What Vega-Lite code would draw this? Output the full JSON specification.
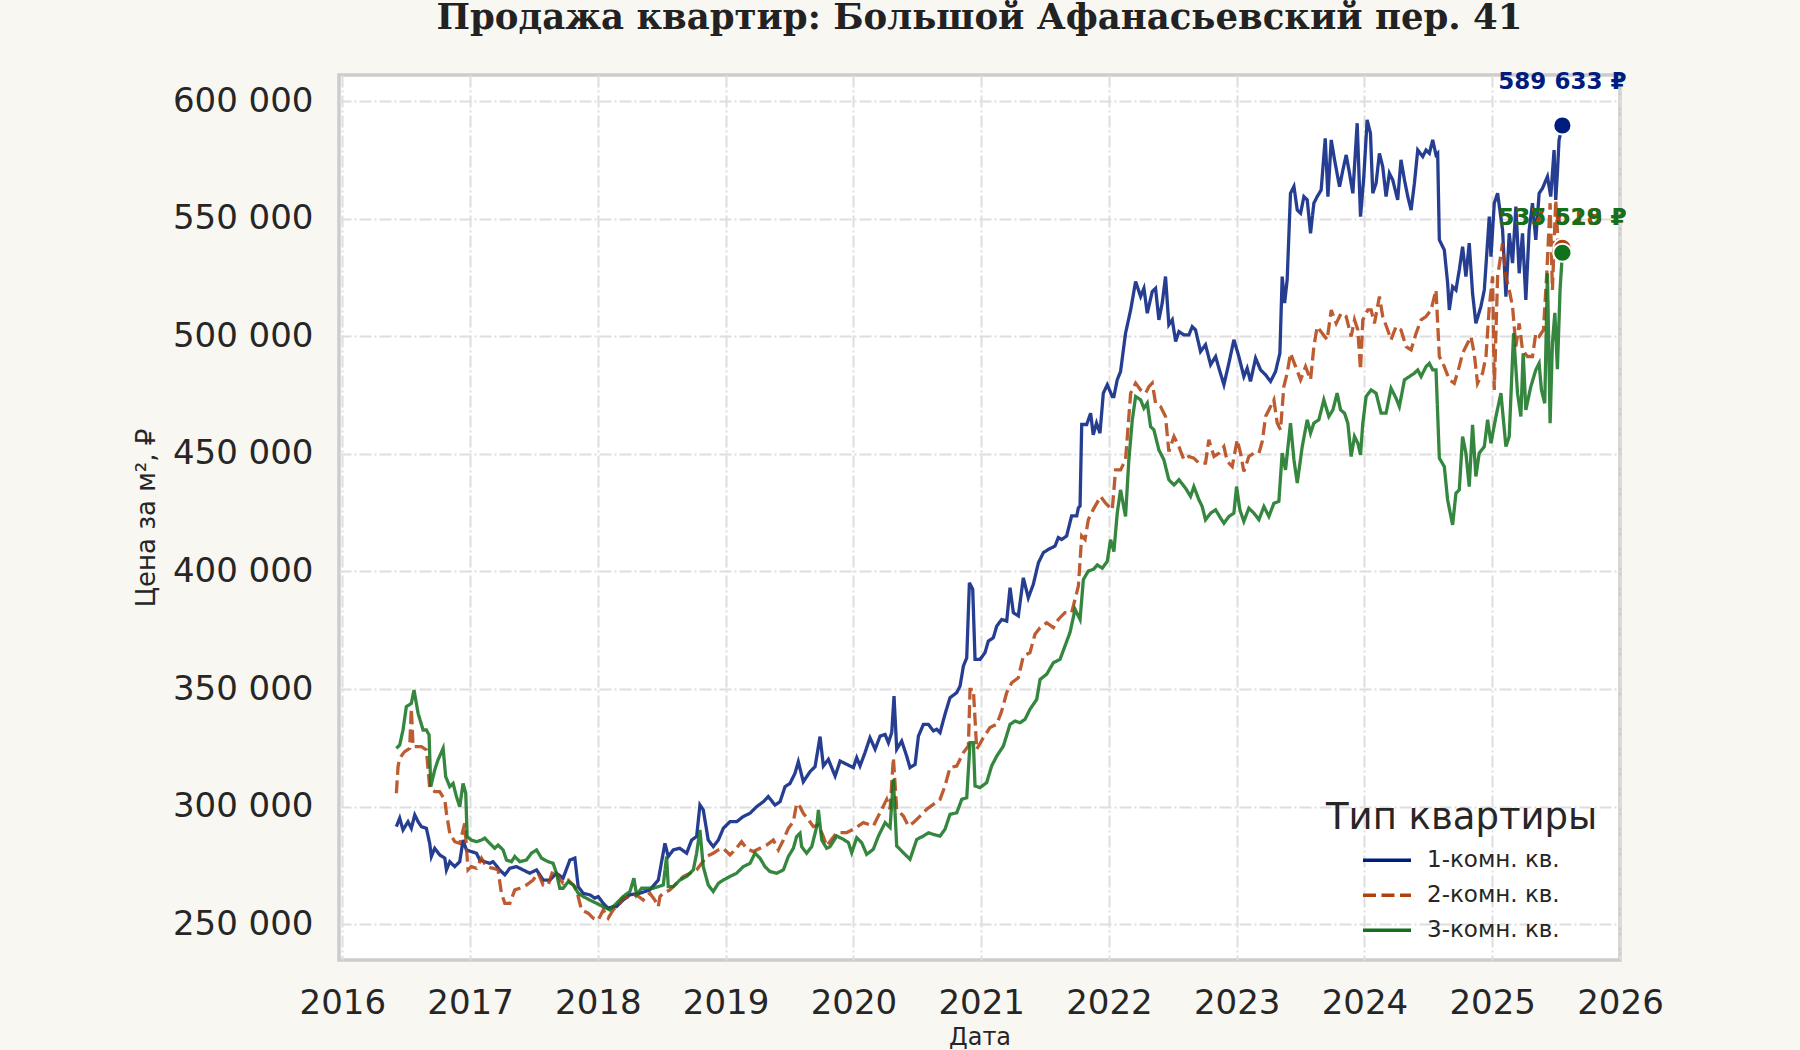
{
  "$schema": "https://vega.github.io/schema/vega-lite/v6.json",
  "width": 1281,
  "height": 885,
  "autosize": {"type": "none"},
  "padding": {"left": 339, "top": 75, "right": 180, "bottom": 90},
  "background": "#f8f7f2",
  "config": {
    "view": {"fill": "#ffffff", "stroke": "#cccccc", "strokeWidth": 3.5},
    "font": "DejaVu Sans",
    "axis": {
      "grid": true, "gridColor": "#dedede", "gridWidth": 2, "gridDash": [12, 3, 2, 3],
      "domain": false, "ticks": false, "labelFlush": false,
      "labelFont": "DejaVu Sans", "labelFontSize": 34, "labelColor": "#262626",
      "titleFont": "DejaVu Sans", "titleFontSize": 24, "titleFontWeight": "normal", "titleColor": "#262626"
    },
    "legend": {
      "orient": "none", "legendX": 987, "legendY": 725,
      "titleFont": "DejaVu Sans", "titleFontSize": 37, "titleFontWeight": "normal", "titleColor": "#262626", "titleLimit": 600,
      "labelFont": "DejaVu Sans", "labelFontSize": 23, "labelColor": "#262626", "labelLimit": 400,
      "symbolType": "stroke", "symbolSize": 2304, "symbolStrokeWidth": 3.3,
      "clipHeight": 34.5, "rowPadding": 0,
      "labelOffset": 14, "symbolOffset": 35, "titlePadding": 6, "padding": 0
    }
  },
  "title": {
    "text": "Продажа квартир: Большой Афанасьевский пер. 41",
    "font": "DejaVu Serif",
    "fontSize": 35.5, "fontWeight": "bold", "color": "#222222",
    "anchor": "middle", "offset": 35
  },
  "datasets": {
    "series": [
      {"t":2016.423,"v":291500,"s":"1-комн. кв."},{"t":2016.449,"v":295100,"s":"1-комн. кв."},{"t":2016.475,"v":290100,"s":"1-комн. кв."},{"t":2016.514,"v":293600,"s":"1-комн. кв."},{"t":2016.540,"v":290800,"s":"1-комн. кв."},{"t":2016.567,"v":296500,"s":"1-комн. кв."},{"t":2016.593,"v":293600,"s":"1-комн. кв."},{"t":2016.619,"v":291500,"s":"1-комн. кв."},{"t":2016.658,"v":290800,"s":"1-комн. кв."},{"t":2016.684,"v":284400,"s":"1-комн. кв."},{"t":2016.697,"v":278800,"s":"1-комн. кв."},{"t":2016.723,"v":282300,"s":"1-комн. кв."},{"t":2016.762,"v":279500,"s":"1-комн. кв."},{"t":2016.802,"v":278100,"s":"1-комн. кв."},{"t":2016.815,"v":273100,"s":"1-комн. кв."},{"t":2016.841,"v":276600,"s":"1-комн. кв."},{"t":2016.880,"v":274500,"s":"1-комн. кв."},{"t":2016.919,"v":276600,"s":"1-комн. кв."},{"t":2016.945,"v":285800,"s":"1-комн. кв."},{"t":2016.971,"v":281600,"s":"1-комн. кв."},
      {"t":2017.010,"v":280900,"s":"1-комн. кв."},{"t":2017.050,"v":280200,"s":"1-комн. кв."},{"t":2017.076,"v":277300,"s":"1-комн. кв."},{"t":2017.115,"v":276600,"s":"1-комн. кв."},{"t":2017.154,"v":275900,"s":"1-комн. кв."},{"t":2017.180,"v":276600,"s":"1-комн. кв."},{"t":2017.232,"v":273100,"s":"1-комн. кв."},{"t":2017.272,"v":271000,"s":"1-комн. кв."},{"t":2017.311,"v":273800,"s":"1-комн. кв."},{"t":2017.363,"v":274500,"s":"1-комн. кв."},{"t":2017.415,"v":273100,"s":"1-комн. кв."},{"t":2017.467,"v":271700,"s":"1-комн. кв."},{"t":2017.520,"v":273100,"s":"1-комн. кв."},{"t":2017.572,"v":268800,"s":"1-комн. кв."},{"t":2017.624,"v":268800,"s":"1-комн. кв."},{"t":2017.676,"v":271700,"s":"1-комн. кв."},{"t":2017.728,"v":269600,"s":"1-комн. кв."},{"t":2017.781,"v":277300,"s":"1-комн. кв."},{"t":2017.820,"v":278100,"s":"1-комн. кв."},{"t":2017.846,"v":266000,"s":"1-комн. кв."},{"t":2017.885,"v":263200,"s":"1-комн. кв."},{"t":2017.937,"v":262500,"s":"1-комн. кв."},{"t":2017.977,"v":261100,"s":"1-комн. кв."},
      {"t":2018.003,"v":261800,"s":"1-комн. кв."},{"t":2018.042,"v":258900,"s":"1-комн. кв."},{"t":2018.081,"v":256800,"s":"1-комн. кв."},{"t":2018.120,"v":257500,"s":"1-комн. кв."},{"t":2018.146,"v":257500,"s":"1-комн. кв."},{"t":2018.198,"v":260300,"s":"1-комн. кв."},{"t":2018.251,"v":262500,"s":"1-комн. кв."},{"t":2018.329,"v":263200,"s":"1-комн. кв."},{"t":2018.407,"v":264600,"s":"1-комн. кв."},{"t":2018.473,"v":268800,"s":"1-комн. кв."},{"t":2018.525,"v":284400,"s":"1-комн. кв."},{"t":2018.551,"v":278800,"s":"1-комн. кв."},{"t":2018.590,"v":281600,"s":"1-комн. кв."},{"t":2018.642,"v":282300,"s":"1-комн. кв."},{"t":2018.695,"v":280200,"s":"1-комн. кв."},{"t":2018.734,"v":285800,"s":"1-комн. кв."},{"t":2018.773,"v":287300,"s":"1-комн. кв."},{"t":2018.799,"v":300700,"s":"1-комн. кв."},{"t":2018.825,"v":298600,"s":"1-комн. кв."},{"t":2018.864,"v":285800,"s":"1-комн. кв."},{"t":2018.903,"v":283000,"s":"1-комн. кв."},{"t":2018.943,"v":285800,"s":"1-комн. кв."},{"t":2018.982,"v":290800,"s":"1-комн. кв."},
      {"t":2019.034,"v":293600,"s":"1-комн. кв."},{"t":2019.086,"v":293600,"s":"1-комн. кв."},{"t":2019.138,"v":295800,"s":"1-комн. кв."},{"t":2019.191,"v":297200,"s":"1-комн. кв."},{"t":2019.243,"v":300000,"s":"1-комн. кв."},{"t":2019.295,"v":302100,"s":"1-комн. кв."},{"t":2019.334,"v":304300,"s":"1-комн. кв."},{"t":2019.386,"v":300700,"s":"1-комн. кв."},{"t":2019.426,"v":302100,"s":"1-комн. кв."},{"t":2019.465,"v":308500,"s":"1-комн. кв."},{"t":2019.504,"v":309900,"s":"1-комн. кв."},{"t":2019.543,"v":314200,"s":"1-комн. кв."},{"t":2019.569,"v":319100,"s":"1-комн. кв."},{"t":2019.608,"v":310600,"s":"1-комн. кв."},{"t":2019.661,"v":314900,"s":"1-комн. кв."},{"t":2019.700,"v":317000,"s":"1-комн. кв."},{"t":2019.739,"v":329800,"s":"1-комн. кв."},{"t":2019.765,"v":317300,"s":"1-комн. кв."},{"t":2019.804,"v":320100,"s":"1-комн. кв."},{"t":2019.857,"v":313000,"s":"1-комн. кв."},{"t":2019.896,"v":319400,"s":"1-комн. кв."},{"t":2019.948,"v":318000,"s":"1-комн. кв."},
      {"t":2020.000,"v":316600,"s":"1-комн. кв."},{"t":2020.026,"v":320800,"s":"1-комн. кв."},{"t":2020.052,"v":317300,"s":"1-комн. кв."},{"t":2020.091,"v":323000,"s":"1-комн. кв."},{"t":2020.130,"v":329300,"s":"1-комн. кв."},{"t":2020.170,"v":324400,"s":"1-комн. кв."},{"t":2020.209,"v":330000,"s":"1-комн. кв."},{"t":2020.248,"v":330700,"s":"1-комн. кв."},{"t":2020.274,"v":327200,"s":"1-комн. кв."},{"t":2020.300,"v":331500,"s":"1-комн. кв."},{"t":2020.318,"v":347000,"s":"1-комн. кв."},{"t":2020.339,"v":324400,"s":"1-комн. кв."},{"t":2020.378,"v":327900,"s":"1-комн. кв."},{"t":2020.417,"v":321500,"s":"1-комн. кв."},{"t":2020.443,"v":316600,"s":"1-комн. кв."},{"t":2020.483,"v":318000,"s":"1-комн. кв."},{"t":2020.509,"v":330000,"s":"1-комн. кв."},{"t":2020.548,"v":335000,"s":"1-комн. кв."},{"t":2020.587,"v":335000,"s":"1-комн. кв."},{"t":2020.626,"v":332200,"s":"1-комн. кв."},{"t":2020.652,"v":332900,"s":"1-комн. кв."},{"t":2020.678,"v":331500,"s":"1-комн. кв."},{"t":2020.717,"v":339300,"s":"1-комн. кв."},{"t":2020.756,"v":346300,"s":"1-комн. кв."},{"t":2020.809,"v":348500,"s":"1-комн. кв."},{"t":2020.835,"v":351300,"s":"1-комн. кв."},{"t":2020.861,"v":359800,"s":"1-комн. кв."},{"t":2020.887,"v":363300,"s":"1-комн. кв."},{"t":2020.908,"v":395200,"s":"1-комн. кв."},{"t":2020.934,"v":392400,"s":"1-комн. кв."},{"t":2020.952,"v":362600,"s":"1-комн. кв."},{"t":2020.991,"v":362600,"s":"1-комн. кв."},
      {"t":2021.030,"v":365500,"s":"1-комн. кв."},{"t":2021.056,"v":370400,"s":"1-комн. кв."},{"t":2021.095,"v":371800,"s":"1-комн. кв."},{"t":2021.122,"v":376800,"s":"1-комн. кв."},{"t":2021.161,"v":379600,"s":"1-комн. кв."},{"t":2021.200,"v":378900,"s":"1-комн. кв."},{"t":2021.226,"v":393100,"s":"1-комн. кв."},{"t":2021.252,"v":382500,"s":"1-комн. кв."},{"t":2021.291,"v":381100,"s":"1-комн. кв."},{"t":2021.330,"v":397300,"s":"1-комн. кв."},{"t":2021.369,"v":388800,"s":"1-комн. кв."},{"t":2021.408,"v":394500,"s":"1-комн. кв."},{"t":2021.448,"v":403700,"s":"1-комн. кв."},{"t":2021.487,"v":408000,"s":"1-комн. кв."},{"t":2021.526,"v":409400,"s":"1-комн. кв."},{"t":2021.578,"v":410800,"s":"1-комн. кв."},{"t":2021.604,"v":414400,"s":"1-комн. кв."},{"t":2021.630,"v":413600,"s":"1-комн. кв."},{"t":2021.669,"v":415100,"s":"1-комн. кв."},{"t":2021.708,"v":423600,"s":"1-комн. кв."},{"t":2021.748,"v":423600,"s":"1-комн. кв."},{"t":2021.761,"v":427100,"s":"1-комн. кв."},{"t":2021.774,"v":427800,"s":"1-комн. кв."},{"t":2021.787,"v":462500,"s":"1-комн. кв."},{"t":2021.826,"v":462500,"s":"1-комн. кв."},{"t":2021.857,"v":467300,"s":"1-комн. кв."},{"t":2021.877,"v":458100,"s":"1-комн. кв."},{"t":2021.903,"v":463100,"s":"1-комн. кв."},{"t":2021.930,"v":458800,"s":"1-комн. кв."},{"t":2021.956,"v":475800,"s":"1-комн. кв."},{"t":2021.987,"v":479400,"s":"1-комн. кв."},
      {"t":2022.026,"v":474400,"s":"1-комн. кв."},{"t":2022.039,"v":474400,"s":"1-комн. кв."},{"t":2022.065,"v":481500,"s":"1-комн. кв."},{"t":2022.091,"v":485000,"s":"1-комн. кв."},{"t":2022.130,"v":501300,"s":"1-комн. кв."},{"t":2022.170,"v":511200,"s":"1-комн. кв."},{"t":2022.209,"v":523300,"s":"1-комн. кв."},{"t":2022.248,"v":516900,"s":"1-комн. кв."},{"t":2022.274,"v":520400,"s":"1-комн. кв."},{"t":2022.300,"v":509800,"s":"1-комн. кв."},{"t":2022.339,"v":519000,"s":"1-комн. кв."},{"t":2022.365,"v":520400,"s":"1-комн. кв."},{"t":2022.391,"v":507000,"s":"1-комн. кв."},{"t":2022.417,"v":514100,"s":"1-комн. кв."},{"t":2022.443,"v":525400,"s":"1-комн. кв."},{"t":2022.469,"v":504900,"s":"1-комн. кв."},{"t":2022.496,"v":507000,"s":"1-комн. кв."},{"t":2022.522,"v":497800,"s":"1-комн. кв."},{"t":2022.548,"v":502000,"s":"1-комн. кв."},{"t":2022.587,"v":500600,"s":"1-комн. кв."},{"t":2022.626,"v":500600,"s":"1-комн. кв."},{"t":2022.652,"v":504100,"s":"1-комн. кв."},{"t":2022.678,"v":502700,"s":"1-комн. кв."},{"t":2022.717,"v":493500,"s":"1-комн. кв."},{"t":2022.756,"v":496400,"s":"1-комн. кв."},{"t":2022.796,"v":487900,"s":"1-комн. кв."},{"t":2022.835,"v":491400,"s":"1-комн. кв."},{"t":2022.861,"v":486400,"s":"1-комн. кв."},{"t":2022.900,"v":479400,"s":"1-комн. кв."},{"t":2022.939,"v":488600,"s":"1-комн. кв."},{"t":2022.978,"v":498500,"s":"1-комн. кв."},
      {"t":2023.017,"v":491400,"s":"1-комн. кв."},{"t":2023.056,"v":482900,"s":"1-комн. кв."},{"t":2023.082,"v":486400,"s":"1-комн. кв."},{"t":2023.108,"v":480800,"s":"1-комн. кв."},{"t":2023.148,"v":490700,"s":"1-комн. кв."},{"t":2023.187,"v":485700,"s":"1-комн. кв."},{"t":2023.226,"v":483600,"s":"1-комн. кв."},{"t":2023.265,"v":480800,"s":"1-комн. кв."},{"t":2023.304,"v":485000,"s":"1-комн. кв."},{"t":2023.338,"v":492800,"s":"1-комн. кв."},{"t":2023.356,"v":525400,"s":"1-комн. кв."},{"t":2023.375,"v":514100,"s":"1-комн. кв."},{"t":2023.395,"v":524000,"s":"1-комн. кв."},{"t":2023.421,"v":560800,"s":"1-комн. кв."},{"t":2023.448,"v":563700,"s":"1-комн. кв."},{"t":2023.474,"v":553700,"s":"1-комн. кв."},{"t":2023.500,"v":552300,"s":"1-комн. кв."},{"t":2023.526,"v":559400,"s":"1-комн. кв."},{"t":2023.552,"v":558000,"s":"1-комн. кв."},{"t":2023.578,"v":543800,"s":"1-комн. кв."},{"t":2023.604,"v":556600,"s":"1-комн. кв."},{"t":2023.630,"v":559400,"s":"1-комн. кв."},{"t":2023.661,"v":562200,"s":"1-комн. кв."},{"t":2023.693,"v":584200,"s":"1-комн. кв."},{"t":2023.714,"v":559400,"s":"1-комн. кв."},{"t":2023.740,"v":583500,"s":"1-комн. кв."},{"t":2023.766,"v":575000,"s":"1-комн. кв."},{"t":2023.805,"v":563600,"s":"1-комн. кв."},{"t":2023.831,"v":570700,"s":"1-комн. кв."},{"t":2023.857,"v":577100,"s":"1-комн. кв."},{"t":2023.883,"v":569300,"s":"1-комн. кв."},{"t":2023.909,"v":560800,"s":"1-комн. кв."},{"t":2023.943,"v":590600,"s":"1-комн. кв."},{"t":2023.969,"v":550900,"s":"1-комн. кв."},{"t":2023.995,"v":567900,"s":"1-комн. кв."},
      {"t":2024.021,"v":592000,"s":"1-комн. кв."},{"t":2024.047,"v":586300,"s":"1-комн. кв."},{"t":2024.065,"v":560800,"s":"1-комн. кв."},{"t":2024.091,"v":565100,"s":"1-комн. кв."},{"t":2024.117,"v":577800,"s":"1-комн. кв."},{"t":2024.143,"v":572100,"s":"1-комн. кв."},{"t":2024.169,"v":559400,"s":"1-комн. кв."},{"t":2024.195,"v":569300,"s":"1-комн. кв."},{"t":2024.221,"v":566500,"s":"1-комн. кв."},{"t":2024.260,"v":558000,"s":"1-комн. кв."},{"t":2024.286,"v":575000,"s":"1-комн. кв."},{"t":2024.313,"v":566500,"s":"1-комн. кв."},{"t":2024.339,"v":559400,"s":"1-комн. кв."},{"t":2024.365,"v":553700,"s":"1-комн. кв."},{"t":2024.391,"v":565100,"s":"1-комн. кв."},{"t":2024.417,"v":579200,"s":"1-комн. кв."},{"t":2024.456,"v":576400,"s":"1-комн. кв."},{"t":2024.482,"v":579200,"s":"1-комн. кв."},{"t":2024.508,"v":577800,"s":"1-комн. кв."},{"t":2024.534,"v":583500,"s":"1-комн. кв."},{"t":2024.560,"v":577100,"s":"1-комн. кв."},{"t":2024.573,"v":577800,"s":"1-комн. кв."},{"t":2024.586,"v":541000,"s":"1-комн. кв."},{"t":2024.625,"v":536700,"s":"1-комн. кв."},{"t":2024.651,"v":522600,"s":"1-комн. кв."},{"t":2024.664,"v":511200,"s":"1-комн. кв."},{"t":2024.690,"v":521100,"s":"1-комн. кв."},{"t":2024.716,"v":519700,"s":"1-комн. кв."},{"t":2024.742,"v":528200,"s":"1-комн. кв."},{"t":2024.768,"v":538100,"s":"1-комн. кв."},{"t":2024.794,"v":525400,"s":"1-комн. кв."},{"t":2024.820,"v":539600,"s":"1-комн. кв."},{"t":2024.846,"v":518300,"s":"1-комн. кв."},{"t":2024.872,"v":505500,"s":"1-комн. кв."},{"t":2024.911,"v":512600,"s":"1-комн. кв."},{"t":2024.938,"v":519700,"s":"1-комн. кв."},{"t":2024.977,"v":550900,"s":"1-комн. кв."},{"t":2024.990,"v":533900,"s":"1-комн. кв."},
      {"t":2025.016,"v":556600,"s":"1-комн. кв."},{"t":2025.042,"v":560800,"s":"1-комн. кв."},{"t":2025.081,"v":545200,"s":"1-комн. кв."},{"t":2025.107,"v":516900,"s":"1-комн. кв."},{"t":2025.133,"v":543800,"s":"1-комн. кв."},{"t":2025.159,"v":531100,"s":"1-комн. кв."},{"t":2025.185,"v":555100,"s":"1-комн. кв."},{"t":2025.211,"v":526800,"s":"1-комн. кв."},{"t":2025.237,"v":543800,"s":"1-комн. кв."},{"t":2025.263,"v":515500,"s":"1-комн. кв."},{"t":2025.289,"v":545200,"s":"1-комн. кв."},{"t":2025.315,"v":556600,"s":"1-комн. кв."},{"t":2025.341,"v":541000,"s":"1-комн. кв."},{"t":2025.367,"v":560800,"s":"1-комн. кв."},{"t":2025.393,"v":562900,"s":"1-комн. кв."},{"t":2025.432,"v":567900,"s":"1-комн. кв."},{"t":2025.458,"v":559400,"s":"1-комн. кв."},{"t":2025.484,"v":579200,"s":"1-комн. кв."},{"t":2025.497,"v":558000,"s":"1-комн. кв."},{"t":2025.510,"v":569300,"s":"1-комн. кв."},{"t":2025.523,"v":583500,"s":"1-комн. кв."},{"t":2025.549,"v":589633,"s":"1-комн. кв."},

      {"t":2016.423,"v":305700,"s":"2-комн. кв."},{"t":2016.436,"v":317000,"s":"2-комн. кв."},{"t":2016.449,"v":320600,"s":"2-комн. кв."},{"t":2016.488,"v":323400,"s":"2-комн. кв."},{"t":2016.527,"v":324800,"s":"2-комн. кв."},{"t":2016.540,"v":341800,"s":"2-комн. кв."},{"t":2016.554,"v":325500,"s":"2-комн. кв."},{"t":2016.580,"v":325500,"s":"2-комн. кв."},{"t":2016.619,"v":325500,"s":"2-комн. кв."},{"t":2016.658,"v":324100,"s":"2-комн. кв."},{"t":2016.684,"v":307800,"s":"2-комн. кв."},{"t":2016.723,"v":306400,"s":"2-комн. кв."},{"t":2016.762,"v":306400,"s":"2-комн. кв."},{"t":2016.802,"v":302900,"s":"2-комн. кв."},{"t":2016.815,"v":297200,"s":"2-комн. кв."},{"t":2016.841,"v":288700,"s":"2-комн. кв."},{"t":2016.880,"v":285100,"s":"2-комн. кв."},{"t":2016.919,"v":284400,"s":"2-комн. кв."},{"t":2016.958,"v":292900,"s":"2-комн. кв."},{"t":2016.971,"v":283000,"s":"2-комн. кв."},{"t":2016.984,"v":273100,"s":"2-комн. кв."},
      {"t":2017.010,"v":274500,"s":"2-комн. кв."},{"t":2017.050,"v":273800,"s":"2-комн. кв."},{"t":2017.089,"v":278100,"s":"2-комн. кв."},{"t":2017.128,"v":274500,"s":"2-комн. кв."},{"t":2017.180,"v":273800,"s":"2-комн. кв."},{"t":2017.219,"v":273100,"s":"2-комн. кв."},{"t":2017.245,"v":263200,"s":"2-комн. кв."},{"t":2017.272,"v":258900,"s":"2-комн. кв."},{"t":2017.311,"v":258900,"s":"2-комн. кв."},{"t":2017.350,"v":264600,"s":"2-комн. кв."},{"t":2017.389,"v":265300,"s":"2-комн. кв."},{"t":2017.441,"v":266700,"s":"2-комн. кв."},{"t":2017.493,"v":268800,"s":"2-комн. кв."},{"t":2017.533,"v":271700,"s":"2-комн. кв."},{"t":2017.572,"v":266700,"s":"2-комн. кв."},{"t":2017.611,"v":266700,"s":"2-комн. кв."},{"t":2017.650,"v":273100,"s":"2-комн. кв."},{"t":2017.689,"v":270300,"s":"2-комн. кв."},{"t":2017.728,"v":267400,"s":"2-комн. кв."},{"t":2017.768,"v":268800,"s":"2-комн. кв."},{"t":2017.820,"v":266000,"s":"2-комн. кв."},{"t":2017.846,"v":261800,"s":"2-комн. кв."},{"t":2017.872,"v":256100,"s":"2-комн. кв."},{"t":2017.924,"v":254700,"s":"2-комн. кв."},{"t":2017.963,"v":252600,"s":"2-комн. кв."},
      {"t":2018.003,"v":251800,"s":"2-комн. кв."},{"t":2018.042,"v":256100,"s":"2-комн. кв."},{"t":2018.081,"v":252600,"s":"2-комн. кв."},{"t":2018.120,"v":256100,"s":"2-комн. кв."},{"t":2018.159,"v":258200,"s":"2-комн. кв."},{"t":2018.198,"v":261100,"s":"2-комн. кв."},{"t":2018.251,"v":261800,"s":"2-комн. кв."},{"t":2018.303,"v":262500,"s":"2-комн. кв."},{"t":2018.355,"v":260300,"s":"2-комн. кв."},{"t":2018.407,"v":263200,"s":"2-комн. кв."},{"t":2018.446,"v":260300,"s":"2-комн. кв."},{"t":2018.473,"v":257500,"s":"2-комн. кв."},{"t":2018.486,"v":261800,"s":"2-комн. кв."},{"t":2018.512,"v":263200,"s":"2-комн. кв."},{"t":2018.564,"v":264600,"s":"2-комн. кв."},{"t":2018.616,"v":267400,"s":"2-комн. кв."},{"t":2018.668,"v":270300,"s":"2-комн. кв."},{"t":2018.721,"v":271700,"s":"2-комн. кв."},{"t":2018.773,"v":273100,"s":"2-комн. кв."},{"t":2018.812,"v":275900,"s":"2-комн. кв."},{"t":2018.851,"v":278800,"s":"2-комн. кв."},{"t":2018.903,"v":280200,"s":"2-комн. кв."},{"t":2018.943,"v":281600,"s":"2-комн. кв."},{"t":2018.982,"v":282300,"s":"2-комн. кв."},
      {"t":2019.034,"v":279500,"s":"2-комн. кв."},{"t":2019.073,"v":281600,"s":"2-комн. кв."},{"t":2019.125,"v":285100,"s":"2-комн. кв."},{"t":2019.164,"v":282300,"s":"2-комн. кв."},{"t":2019.217,"v":280900,"s":"2-комн. кв."},{"t":2019.269,"v":282300,"s":"2-комн. кв."},{"t":2019.321,"v":283700,"s":"2-комн. кв."},{"t":2019.373,"v":285800,"s":"2-комн. кв."},{"t":2019.413,"v":281600,"s":"2-комн. кв."},{"t":2019.452,"v":285800,"s":"2-комн. кв."},{"t":2019.491,"v":290800,"s":"2-комн. кв."},{"t":2019.530,"v":293600,"s":"2-комн. кв."},{"t":2019.556,"v":301400,"s":"2-комн. кв."},{"t":2019.582,"v":300000,"s":"2-комн. кв."},{"t":2019.608,"v":297200,"s":"2-комн. кв."},{"t":2019.648,"v":294400,"s":"2-комн. кв."},{"t":2019.687,"v":291500,"s":"2-комн. кв."},{"t":2019.726,"v":292200,"s":"2-комн. кв."},{"t":2019.765,"v":287300,"s":"2-комн. кв."},{"t":2019.791,"v":283300,"s":"2-комн. кв."},{"t":2019.870,"v":289000,"s":"2-комн. кв."},{"t":2019.948,"v":289000,"s":"2-комн. кв."},
      {"t":2020.000,"v":290400,"s":"2-комн. кв."},{"t":2020.078,"v":293200,"s":"2-комн. кв."},{"t":2020.156,"v":291800,"s":"2-комн. кв."},{"t":2020.235,"v":300300,"s":"2-комн. кв."},{"t":2020.261,"v":303100,"s":"2-комн. кв."},{"t":2020.287,"v":298900,"s":"2-комн. кв."},{"t":2020.313,"v":320800,"s":"2-комн. кв."},{"t":2020.339,"v":298900,"s":"2-комн. кв."},{"t":2020.391,"v":296000,"s":"2-комн. кв."},{"t":2020.430,"v":291800,"s":"2-комн. кв."},{"t":2020.469,"v":293200,"s":"2-комн. кв."},{"t":2020.522,"v":296000,"s":"2-комн. кв."},{"t":2020.574,"v":298900,"s":"2-комн. кв."},{"t":2020.626,"v":301000,"s":"2-комн. кв."},{"t":2020.678,"v":303100,"s":"2-комн. кв."},{"t":2020.717,"v":308800,"s":"2-комн. кв."},{"t":2020.756,"v":316600,"s":"2-комн. кв."},{"t":2020.809,"v":317300,"s":"2-комн. кв."},{"t":2020.861,"v":323000,"s":"2-комн. кв."},{"t":2020.900,"v":325800,"s":"2-комн. кв."},{"t":2020.913,"v":349900,"s":"2-комн. кв."},{"t":2020.939,"v":349900,"s":"2-комн. кв."},{"t":2020.965,"v":324400,"s":"2-комн. кв."},
      {"t":2021.017,"v":329300,"s":"2-комн. кв."},{"t":2021.069,"v":333600,"s":"2-комн. кв."},{"t":2021.122,"v":335000,"s":"2-комн. кв."},{"t":2021.161,"v":340700,"s":"2-комн. кв."},{"t":2021.200,"v":348500,"s":"2-комн. кв."},{"t":2021.239,"v":352700,"s":"2-комн. кв."},{"t":2021.291,"v":354800,"s":"2-комн. кв."},{"t":2021.330,"v":364000,"s":"2-комн. кв."},{"t":2021.382,"v":365500,"s":"2-комн. кв."},{"t":2021.421,"v":373300,"s":"2-комн. кв."},{"t":2021.461,"v":376100,"s":"2-комн. кв."},{"t":2021.513,"v":378200,"s":"2-комн. кв."},{"t":2021.565,"v":376100,"s":"2-комн. кв."},{"t":2021.604,"v":379600,"s":"2-комн. кв."},{"t":2021.656,"v":382500,"s":"2-комн. кв."},{"t":2021.708,"v":382500,"s":"2-комн. кв."},{"t":2021.761,"v":393800,"s":"2-комн. кв."},{"t":2021.787,"v":415100,"s":"2-комн. кв."},{"t":2021.813,"v":413600,"s":"2-комн. кв."},{"t":2021.839,"v":422100,"s":"2-комн. кв."},{"t":2021.878,"v":426400,"s":"2-комн. кв."},{"t":2021.935,"v":431900,"s":"2-комн. кв."},{"t":2021.974,"v":429000,"s":"2-комн. кв."},
      {"t":2022.026,"v":426200,"s":"2-комн. кв."},{"t":2022.052,"v":443200,"s":"2-комн. кв."},{"t":2022.091,"v":443200,"s":"2-комн. кв."},{"t":2022.130,"v":447500,"s":"2-комн. кв."},{"t":2022.170,"v":475800,"s":"2-комн. кв."},{"t":2022.209,"v":480100,"s":"2-комн. кв."},{"t":2022.248,"v":477200,"s":"2-комн. кв."},{"t":2022.287,"v":475800,"s":"2-комн. кв."},{"t":2022.313,"v":478600,"s":"2-комн. кв."},{"t":2022.339,"v":480100,"s":"2-комн. кв."},{"t":2022.365,"v":471600,"s":"2-комн. кв."},{"t":2022.404,"v":470100,"s":"2-комн. кв."},{"t":2022.443,"v":465900,"s":"2-комн. кв."},{"t":2022.469,"v":451000,"s":"2-комн. кв."},{"t":2022.509,"v":457400,"s":"2-комн. кв."},{"t":2022.548,"v":453100,"s":"2-комн. кв."},{"t":2022.587,"v":447500,"s":"2-комн. кв."},{"t":2022.626,"v":448900,"s":"2-комн. кв."},{"t":2022.665,"v":448200,"s":"2-комн. кв."},{"t":2022.704,"v":446100,"s":"2-комн. кв."},{"t":2022.756,"v":446100,"s":"2-комн. кв."},{"t":2022.782,"v":456000,"s":"2-комн. кв."},{"t":2022.822,"v":448900,"s":"2-комн. кв."},{"t":2022.861,"v":450300,"s":"2-комн. кв."},{"t":2022.900,"v":453100,"s":"2-комн. кв."},{"t":2022.926,"v":446800,"s":"2-комн. кв."},{"t":2022.965,"v":444600,"s":"2-комн. кв."},
      {"t":2023.004,"v":456000,"s":"2-комн. кв."},{"t":2023.030,"v":450300,"s":"2-комн. кв."},{"t":2023.056,"v":442500,"s":"2-комн. кв."},{"t":2023.095,"v":448900,"s":"2-комн. кв."},{"t":2023.135,"v":450300,"s":"2-комн. кв."},{"t":2023.174,"v":450300,"s":"2-комн. кв."},{"t":2023.200,"v":455300,"s":"2-комн. кв."},{"t":2023.226,"v":465900,"s":"2-комн. кв."},{"t":2023.265,"v":470100,"s":"2-комн. кв."},{"t":2023.291,"v":473000,"s":"2-комн. кв."},{"t":2023.317,"v":463100,"s":"2-комн. кв."},{"t":2023.343,"v":460200,"s":"2-комн. кв."},{"t":2023.369,"v":478600,"s":"2-комн. кв."},{"t":2023.395,"v":484300,"s":"2-комн. кв."},{"t":2023.421,"v":492800,"s":"2-комн. кв."},{"t":2023.461,"v":487100,"s":"2-комн. кв."},{"t":2023.500,"v":481500,"s":"2-комн. кв."},{"t":2023.539,"v":487100,"s":"2-комн. кв."},{"t":2023.578,"v":481500,"s":"2-комн. кв."},{"t":2023.604,"v":495600,"s":"2-комн. кв."},{"t":2023.630,"v":504100,"s":"2-комн. кв."},{"t":2023.669,"v":501300,"s":"2-комн. кв."},{"t":2023.708,"v":498500,"s":"2-комн. кв."},{"t":2023.740,"v":511200,"s":"2-комн. кв."},{"t":2023.779,"v":505500,"s":"2-комн. кв."},{"t":2023.818,"v":509800,"s":"2-комн. кв."},{"t":2023.857,"v":508400,"s":"2-комн. кв."},{"t":2023.896,"v":499900,"s":"2-комн. кв."},{"t":2023.922,"v":507000,"s":"2-комн. кв."},{"t":2023.948,"v":502700,"s":"2-комн. кв."},{"t":2023.969,"v":485700,"s":"2-комн. кв."},{"t":2023.987,"v":507000,"s":"2-комн. кв."},
      {"t":2024.026,"v":511200,"s":"2-комн. кв."},{"t":2024.052,"v":511200,"s":"2-комн. кв."},{"t":2024.078,"v":505500,"s":"2-комн. кв."},{"t":2024.117,"v":516900,"s":"2-комн. кв."},{"t":2024.143,"v":508400,"s":"2-комн. кв."},{"t":2024.182,"v":502700,"s":"2-комн. кв."},{"t":2024.208,"v":498500,"s":"2-комн. кв."},{"t":2024.247,"v":504100,"s":"2-комн. кв."},{"t":2024.286,"v":502700,"s":"2-комн. кв."},{"t":2024.326,"v":495600,"s":"2-комн. кв."},{"t":2024.365,"v":494200,"s":"2-комн. кв."},{"t":2024.404,"v":501300,"s":"2-комн. кв."},{"t":2024.443,"v":507000,"s":"2-комн. кв."},{"t":2024.482,"v":508400,"s":"2-комн. кв."},{"t":2024.521,"v":511200,"s":"2-комн. кв."},{"t":2024.560,"v":519700,"s":"2-комн. кв."},{"t":2024.586,"v":491400,"s":"2-комн. кв."},{"t":2024.625,"v":487100,"s":"2-комн. кв."},{"t":2024.664,"v":481500,"s":"2-комн. кв."},{"t":2024.703,"v":480000,"s":"2-комн. кв."},{"t":2024.742,"v":487100,"s":"2-комн. кв."},{"t":2024.768,"v":492800,"s":"2-комн. кв."},{"t":2024.807,"v":497000,"s":"2-комн. кв."},{"t":2024.833,"v":499900,"s":"2-комн. кв."},{"t":2024.859,"v":492800,"s":"2-комн. кв."},{"t":2024.885,"v":480000,"s":"2-комн. кв."},{"t":2024.924,"v":484300,"s":"2-комн. кв."},{"t":2024.951,"v":491400,"s":"2-комн. кв."},{"t":2024.977,"v":512600,"s":"2-комн. кв."},
      {"t":2025.003,"v":525400,"s":"2-комн. кв."},{"t":2025.016,"v":477200,"s":"2-комн. кв."},{"t":2025.042,"v":525400,"s":"2-комн. кв."},{"t":2025.081,"v":539600,"s":"2-комн. кв."},{"t":2025.107,"v":525400,"s":"2-комн. кв."},{"t":2025.133,"v":519700,"s":"2-комн. кв."},{"t":2025.159,"v":512600,"s":"2-комн. кв."},{"t":2025.185,"v":495600,"s":"2-комн. кв."},{"t":2025.211,"v":505500,"s":"2-комн. кв."},{"t":2025.237,"v":494200,"s":"2-комн. кв."},{"t":2025.276,"v":491400,"s":"2-комн. кв."},{"t":2025.315,"v":491400,"s":"2-комн. кв."},{"t":2025.341,"v":501300,"s":"2-комн. кв."},{"t":2025.367,"v":499900,"s":"2-комн. кв."},{"t":2025.401,"v":502700,"s":"2-комн. кв."},{"t":2025.427,"v":526800,"s":"2-комн. кв."},{"t":2025.453,"v":556600,"s":"2-комн. кв."},{"t":2025.471,"v":519700,"s":"2-комн. кв."},{"t":2025.497,"v":558000,"s":"2-комн. кв."},{"t":2025.523,"v":532500,"s":"2-комн. кв."},{"t":2025.549,"v":537618,"s":"2-комн. кв."},

      {"t":2016.423,"v":324800,"s":"3-комн. кв."},{"t":2016.449,"v":326200,"s":"3-комн. кв."},{"t":2016.475,"v":332600,"s":"3-комн. кв."},{"t":2016.501,"v":342500,"s":"3-комн. кв."},{"t":2016.540,"v":343900,"s":"3-комн. кв."},{"t":2016.561,"v":349600,"s":"3-комн. кв."},{"t":2016.593,"v":339700,"s":"3-комн. кв."},{"t":2016.632,"v":332600,"s":"3-комн. кв."},{"t":2016.658,"v":332600,"s":"3-комн. кв."},{"t":2016.679,"v":330500,"s":"3-комн. кв."},{"t":2016.692,"v":308500,"s":"3-комн. кв."},{"t":2016.723,"v":315600,"s":"3-комн. кв."},{"t":2016.749,"v":319900,"s":"3-комн. кв."},{"t":2016.789,"v":324800,"s":"3-комн. кв."},{"t":2016.809,"v":312800,"s":"3-комн. кв."},{"t":2016.841,"v":308500,"s":"3-комн. кв."},{"t":2016.867,"v":309900,"s":"3-комн. кв."},{"t":2016.893,"v":304300,"s":"3-комн. кв."},{"t":2016.919,"v":300000,"s":"3-комн. кв."},{"t":2016.945,"v":309900,"s":"3-комн. кв."},{"t":2016.966,"v":305700,"s":"3-комн. кв."},{"t":2016.977,"v":287300,"s":"3-комн. кв."},
      {"t":2017.010,"v":285800,"s":"3-комн. кв."},{"t":2017.050,"v":285100,"s":"3-комн. кв."},{"t":2017.089,"v":285800,"s":"3-комн. кв."},{"t":2017.115,"v":286600,"s":"3-комн. кв."},{"t":2017.154,"v":284400,"s":"3-комн. кв."},{"t":2017.193,"v":282300,"s":"3-комн. кв."},{"t":2017.219,"v":283700,"s":"3-комн. кв."},{"t":2017.258,"v":281600,"s":"3-комн. кв."},{"t":2017.285,"v":277300,"s":"3-комн. кв."},{"t":2017.324,"v":276600,"s":"3-комн. кв."},{"t":2017.350,"v":278800,"s":"3-комн. кв."},{"t":2017.389,"v":276600,"s":"3-комн. кв."},{"t":2017.441,"v":277300,"s":"3-комн. кв."},{"t":2017.480,"v":280200,"s":"3-комн. кв."},{"t":2017.520,"v":281600,"s":"3-комн. кв."},{"t":2017.559,"v":278100,"s":"3-комн. кв."},{"t":2017.611,"v":276600,"s":"3-комн. кв."},{"t":2017.650,"v":275900,"s":"3-комн. кв."},{"t":2017.676,"v":271700,"s":"3-комн. кв."},{"t":2017.702,"v":265300,"s":"3-комн. кв."},{"t":2017.728,"v":265300,"s":"3-комн. кв."},{"t":2017.768,"v":268100,"s":"3-комн. кв."},{"t":2017.807,"v":266700,"s":"3-комн. кв."},{"t":2017.846,"v":263200,"s":"3-комн. кв."},{"t":2017.885,"v":261800,"s":"3-комн. кв."},{"t":2017.937,"v":260300,"s":"3-комн. кв."},{"t":2017.990,"v":258900,"s":"3-комн. кв."},
      {"t":2018.042,"v":257500,"s":"3-комн. кв."},{"t":2018.094,"v":256100,"s":"3-комн. кв."},{"t":2018.146,"v":258900,"s":"3-комн. кв."},{"t":2018.198,"v":261800,"s":"3-комн. кв."},{"t":2018.251,"v":263900,"s":"3-комн. кв."},{"t":2018.282,"v":269600,"s":"3-комн. кв."},{"t":2018.303,"v":262500,"s":"3-комн. кв."},{"t":2018.342,"v":265300,"s":"3-комн. кв."},{"t":2018.394,"v":265300,"s":"3-комн. кв."},{"t":2018.433,"v":265300,"s":"3-комн. кв."},{"t":2018.473,"v":266000,"s":"3-комн. кв."},{"t":2018.512,"v":266700,"s":"3-комн. кв."},{"t":2018.538,"v":278800,"s":"3-комн. кв."},{"t":2018.551,"v":266000,"s":"3-комн. кв."},{"t":2018.590,"v":266000,"s":"3-комн. кв."},{"t":2018.642,"v":268800,"s":"3-комн. кв."},{"t":2018.695,"v":270300,"s":"3-комн. кв."},{"t":2018.747,"v":273100,"s":"3-комн. кв."},{"t":2018.773,"v":280200,"s":"3-комн. кв."},{"t":2018.799,"v":290100,"s":"3-комн. кв."},{"t":2018.825,"v":274500,"s":"3-комн. кв."},{"t":2018.864,"v":266700,"s":"3-комн. кв."},{"t":2018.903,"v":263900,"s":"3-комн. кв."},{"t":2018.943,"v":267400,"s":"3-комн. кв."},{"t":2018.982,"v":268800,"s":"3-комн. кв."},
      {"t":2019.034,"v":270300,"s":"3-комн. кв."},{"t":2019.086,"v":271700,"s":"3-комн. кв."},{"t":2019.138,"v":274500,"s":"3-комн. кв."},{"t":2019.191,"v":275900,"s":"3-комн. кв."},{"t":2019.230,"v":280200,"s":"3-комн. кв."},{"t":2019.269,"v":278100,"s":"3-комн. кв."},{"t":2019.308,"v":274500,"s":"3-комн. кв."},{"t":2019.347,"v":272400,"s":"3-комн. кв."},{"t":2019.400,"v":271700,"s":"3-комн. кв."},{"t":2019.452,"v":273100,"s":"3-комн. кв."},{"t":2019.491,"v":278800,"s":"3-комн. кв."},{"t":2019.530,"v":282300,"s":"3-комн. кв."},{"t":2019.556,"v":287300,"s":"3-комн. кв."},{"t":2019.582,"v":288700,"s":"3-комн. кв."},{"t":2019.595,"v":283000,"s":"3-комн. кв."},{"t":2019.634,"v":280200,"s":"3-комн. кв."},{"t":2019.674,"v":283000,"s":"3-комн. кв."},{"t":2019.713,"v":291500,"s":"3-комн. кв."},{"t":2019.726,"v":298600,"s":"3-комн. кв."},{"t":2019.752,"v":285800,"s":"3-комн. кв."},{"t":2019.791,"v":282300,"s":"3-комн. кв."},{"t":2019.817,"v":283000,"s":"3-комн. кв."},{"t":2019.870,"v":287500,"s":"3-комн. кв."},{"t":2019.922,"v":286100,"s":"3-комн. кв."},{"t":2019.961,"v":284700,"s":"3-комн. кв."},{"t":2019.987,"v":280400,"s":"3-комн. кв."},
      {"t":2020.026,"v":286800,"s":"3-комн. кв."},{"t":2020.065,"v":284700,"s":"3-комн. кв."},{"t":2020.104,"v":279700,"s":"3-комн. кв."},{"t":2020.156,"v":281900,"s":"3-комн. кв."},{"t":2020.196,"v":287500,"s":"3-комн. кв."},{"t":2020.248,"v":293200,"s":"3-комн. кв."},{"t":2020.287,"v":291100,"s":"3-комн. кв."},{"t":2020.313,"v":311600,"s":"3-комн. кв."},{"t":2020.339,"v":283300,"s":"3-комн. кв."},{"t":2020.391,"v":280400,"s":"3-комн. кв."},{"t":2020.443,"v":277600,"s":"3-комн. кв."},{"t":2020.496,"v":286100,"s":"3-комн. кв."},{"t":2020.548,"v":287500,"s":"3-комн. кв."},{"t":2020.587,"v":288900,"s":"3-комн. кв."},{"t":2020.626,"v":288200,"s":"3-комн. кв."},{"t":2020.678,"v":287500,"s":"3-комн. кв."},{"t":2020.717,"v":290400,"s":"3-комн. кв."},{"t":2020.756,"v":296700,"s":"3-комн. кв."},{"t":2020.809,"v":297400,"s":"3-комн. кв."},{"t":2020.848,"v":303100,"s":"3-комн. кв."},{"t":2020.887,"v":303800,"s":"3-комн. кв."},{"t":2020.913,"v":327200,"s":"3-комн. кв."},{"t":2020.939,"v":327200,"s":"3-комн. кв."},{"t":2020.952,"v":308800,"s":"3-комн. кв."},{"t":2020.991,"v":308100,"s":"3-комн. кв."},
      {"t":2021.043,"v":310200,"s":"3-комн. кв."},{"t":2021.082,"v":317300,"s":"3-комн. кв."},{"t":2021.122,"v":321500,"s":"3-комн. кв."},{"t":2021.174,"v":325800,"s":"3-комн. кв."},{"t":2021.226,"v":335000,"s":"3-комн. кв."},{"t":2021.265,"v":336400,"s":"3-комн. кв."},{"t":2021.304,"v":335700,"s":"3-комн. кв."},{"t":2021.343,"v":337100,"s":"3-комн. кв."},{"t":2021.382,"v":341400,"s":"3-комн. кв."},{"t":2021.435,"v":345600,"s":"3-комн. кв."},{"t":2021.461,"v":354100,"s":"3-комн. кв."},{"t":2021.513,"v":356300,"s":"3-комн. кв."},{"t":2021.565,"v":361200,"s":"3-комн. кв."},{"t":2021.617,"v":362600,"s":"3-комн. кв."},{"t":2021.656,"v":368300,"s":"3-комн. кв."},{"t":2021.695,"v":374000,"s":"3-комн. кв."},{"t":2021.735,"v":383900,"s":"3-комн. кв."},{"t":2021.774,"v":379600,"s":"3-комн. кв."},{"t":2021.800,"v":396600,"s":"3-комн. кв."},{"t":2021.839,"v":400200,"s":"3-комн. кв."},{"t":2021.878,"v":400900,"s":"3-комн. кв."},{"t":2021.909,"v":402800,"s":"3-комн. кв."},{"t":2021.948,"v":401400,"s":"3-комн. кв."},{"t":2021.987,"v":404300,"s":"3-комн. кв."},
      {"t":2022.013,"v":413500,"s":"3-комн. кв."},{"t":2022.039,"v":408500,"s":"3-комн. кв."},{"t":2022.065,"v":424800,"s":"3-комн. кв."},{"t":2022.091,"v":434700,"s":"3-комн. кв."},{"t":2022.130,"v":423400,"s":"3-комн. кв."},{"t":2022.156,"v":447500,"s":"3-комн. кв."},{"t":2022.183,"v":464500,"s":"3-комн. кв."},{"t":2022.209,"v":474400,"s":"3-комн. кв."},{"t":2022.248,"v":473000,"s":"3-комн. кв."},{"t":2022.274,"v":469400,"s":"3-комн. кв."},{"t":2022.300,"v":471600,"s":"3-комн. кв."},{"t":2022.326,"v":461600,"s":"3-комн. кв."},{"t":2022.352,"v":460200,"s":"3-комн. кв."},{"t":2022.391,"v":451700,"s":"3-комн. кв."},{"t":2022.430,"v":447500,"s":"3-комн. кв."},{"t":2022.469,"v":439000,"s":"3-комн. кв."},{"t":2022.509,"v":436800,"s":"3-комн. кв."},{"t":2022.548,"v":439000,"s":"3-комн. кв."},{"t":2022.600,"v":435400,"s":"3-комн. кв."},{"t":2022.639,"v":431900,"s":"3-комн. кв."},{"t":2022.665,"v":436100,"s":"3-комн. кв."},{"t":2022.704,"v":430500,"s":"3-комн. кв."},{"t":2022.730,"v":427600,"s":"3-комн. кв."},{"t":2022.756,"v":422000,"s":"3-комн. кв."},{"t":2022.796,"v":424800,"s":"3-комн. кв."},{"t":2022.835,"v":426200,"s":"3-комн. кв."},{"t":2022.874,"v":422700,"s":"3-комн. кв."},{"t":2022.900,"v":420500,"s":"3-комн. кв."},{"t":2022.939,"v":423400,"s":"3-комн. кв."},{"t":2022.978,"v":424800,"s":"3-комн. кв."},{"t":2022.999,"v":436100,"s":"3-комн. кв."},
      {"t":2023.025,"v":426200,"s":"3-комн. кв."},{"t":2023.056,"v":421300,"s":"3-комн. кв."},{"t":2023.095,"v":426900,"s":"3-комн. кв."},{"t":2023.135,"v":424800,"s":"3-комн. кв."},{"t":2023.174,"v":422000,"s":"3-комн. кв."},{"t":2023.213,"v":427600,"s":"3-комн. кв."},{"t":2023.252,"v":423400,"s":"3-комн. кв."},{"t":2023.291,"v":429000,"s":"3-комн. кв."},{"t":2023.330,"v":429800,"s":"3-комн. кв."},{"t":2023.356,"v":450300,"s":"3-комн. кв."},{"t":2023.382,"v":443200,"s":"3-комн. кв."},{"t":2023.421,"v":463100,"s":"3-комн. кв."},{"t":2023.448,"v":447500,"s":"3-комн. кв."},{"t":2023.474,"v":437600,"s":"3-комн. кв."},{"t":2023.513,"v":453100,"s":"3-комн. кв."},{"t":2023.552,"v":464500,"s":"3-комн. кв."},{"t":2023.578,"v":458800,"s":"3-комн. кв."},{"t":2023.604,"v":463100,"s":"3-комн. кв."},{"t":2023.643,"v":464500,"s":"3-комн. кв."},{"t":2023.682,"v":473000,"s":"3-комн. кв."},{"t":2023.721,"v":465900,"s":"3-комн. кв."},{"t":2023.753,"v":468700,"s":"3-комн. кв."},{"t":2023.786,"v":475800,"s":"3-комн. кв."},{"t":2023.813,"v":468700,"s":"3-комн. кв."},{"t":2023.844,"v":467300,"s":"3-комн. кв."},{"t":2023.870,"v":463000,"s":"3-комн. кв."},{"t":2023.896,"v":448900,"s":"3-комн. кв."},{"t":2023.922,"v":457400,"s":"3-комн. кв."},{"t":2023.948,"v":454500,"s":"3-комн. кв."},{"t":2023.969,"v":449600,"s":"3-комн. кв."},{"t":2023.987,"v":463000,"s":"3-комн. кв."},
      {"t":2024.013,"v":474400,"s":"3-комн. кв."},{"t":2024.052,"v":477200,"s":"3-комн. кв."},{"t":2024.091,"v":475800,"s":"3-комн. кв."},{"t":2024.130,"v":467300,"s":"3-комн. кв."},{"t":2024.169,"v":467300,"s":"3-комн. кв."},{"t":2024.208,"v":477900,"s":"3-комн. кв."},{"t":2024.247,"v":473700,"s":"3-комн. кв."},{"t":2024.273,"v":470100,"s":"3-комн. кв."},{"t":2024.313,"v":481500,"s":"3-комн. кв."},{"t":2024.352,"v":482900,"s":"3-комн. кв."},{"t":2024.391,"v":484300,"s":"3-комн. кв."},{"t":2024.417,"v":485700,"s":"3-комн. кв."},{"t":2024.443,"v":482900,"s":"3-комн. кв."},{"t":2024.482,"v":487100,"s":"3-комн. кв."},{"t":2024.508,"v":488500,"s":"3-комн. кв."},{"t":2024.534,"v":485700,"s":"3-комн. кв."},{"t":2024.560,"v":485700,"s":"3-комн. кв."},{"t":2024.586,"v":448200,"s":"3-комн. кв."},{"t":2024.625,"v":444600,"s":"3-комн. кв."},{"t":2024.651,"v":430400,"s":"3-комн. кв."},{"t":2024.690,"v":419800,"s":"3-комн. кв."},{"t":2024.716,"v":433300,"s":"3-комн. кв."},{"t":2024.742,"v":434700,"s":"3-комн. кв."},{"t":2024.768,"v":457400,"s":"3-комн. кв."},{"t":2024.794,"v":450300,"s":"3-комн. кв."},{"t":2024.820,"v":436100,"s":"3-комн. кв."},{"t":2024.846,"v":462300,"s":"3-комн. кв."},{"t":2024.872,"v":440400,"s":"3-комн. кв."},{"t":2024.898,"v":450300,"s":"3-комн. кв."},{"t":2024.938,"v":453100,"s":"3-комн. кв."},{"t":2024.964,"v":464500,"s":"3-комн. кв."},{"t":2024.990,"v":454500,"s":"3-комн. кв."},
      {"t":2025.029,"v":465900,"s":"3-комн. кв."},{"t":2025.068,"v":475800,"s":"3-комн. кв."},{"t":2025.107,"v":453100,"s":"3-комн. кв."},{"t":2025.133,"v":457400,"s":"3-комн. кв."},{"t":2025.167,"v":501300,"s":"3-комн. кв."},{"t":2025.198,"v":475800,"s":"3-комн. кв."},{"t":2025.224,"v":465900,"s":"3-комн. кв."},{"t":2025.242,"v":492800,"s":"3-комн. кв."},{"t":2025.263,"v":468700,"s":"3-комн. кв."},{"t":2025.302,"v":478600,"s":"3-комн. кв."},{"t":2025.341,"v":485700,"s":"3-комн. кв."},{"t":2025.367,"v":488500,"s":"3-комн. кв."},{"t":2025.385,"v":477200,"s":"3-комн. кв."},{"t":2025.411,"v":471500,"s":"3-комн. кв."},{"t":2025.432,"v":526800,"s":"3-комн. кв."},{"t":2025.453,"v":463000,"s":"3-комн. кв."},{"t":2025.471,"v":497000,"s":"3-комн. кв."},{"t":2025.490,"v":510000,"s":"3-комн. кв."},{"t":2025.510,"v":486000,"s":"3-комн. кв."},{"t":2025.531,"v":520000,"s":"3-комн. кв."},{"t":2025.549,"v":535529,"s":"3-комн. кв."}
    ],
    "last": [
      {"t":2025.549,"v":589633,"s":"1-комн. кв.","label":"589 633 ₽"},
      {"t":2025.549,"v":537618,"s":"2-комн. кв.","label":"537 618 ₽"},
      {"t":2025.549,"v":535529,"s":"3-комн. кв.","label":"535 529 ₽"}
    ]
  },
  "encoding": {
    "x": {
      "field": "t", "type": "quantitative",
      "scale": {"domain": [2015.974, 2026.0], "nice": false, "zero": false},
      "axis": {"values": [2016, 2017, 2018, 2019, 2020, 2021, 2022, 2023, 2024, 2025, 2026], "format": "d", "title": "Дата", "labelPadding": 26, "titlePadding": 5}
    },
    "y": {
      "field": "v", "type": "quantitative",
      "scale": {"domain": [234800, 611100], "nice": false, "zero": false},
      "axis": {"values": [250000, 300000, 350000, 400000, 450000, 500000, 550000, 600000], "labelExpr": "replace(format(datum.value, ',d'), ',', ' ')", "title": "Цена за м², ₽", "titleFontSize": 26, "labelPadding": 26, "titlePadding": 13}
    }
  },
  "layer": [
    {
      "data": {"name": "series"},
      "mark": {"type": "line", "strokeWidth": 3.3, "strokeOpacity": 0.85},
      "encoding": {
        "color": {
          "field": "s", "type": "nominal",
          "scale": {"domain": ["1-комн. кв.", "2-комн. кв.", "3-комн. кв."], "range": ["#001c7f", "#b1400d", "#12711c"]},
          "legend": {"title": "Тип квартиры"}
        },
        "strokeDash": {
          "field": "s", "type": "nominal",
          "scale": {"domain": ["1-комн. кв.", "2-комн. кв.", "3-комн. кв."], "range": [[1, 0], [13, 5.5], [1, 0]]},
          "legend": {"title": "Тип квартиры"}
        }
      }
    },
    {
      "data": {"name": "last"},
      "mark": {"type": "point", "filled": true, "size": 330, "opacity": 1, "stroke": "#ffffff", "strokeWidth": 2, "strokeOpacity": 1},
      "encoding": {
        "fill": {
          "field": "s", "type": "nominal",
          "scale": {"domain": ["1-комн. кв.", "2-комн. кв.", "3-комн. кв."], "range": ["#001c7f", "#b1400d", "#12711c"]},
          "legend": null
        }
      }
    },
    {
      "data": {"name": "last"},
      "transform": [{"filter": "datum.s == '1-комн. кв.'"}],
      "mark": {"type": "text", "font": "DejaVu Sans", "fontSize": 23, "fontWeight": "bold", "align": "center", "baseline": "alphabetic", "dy": -36},
      "encoding": {
        "text": {"field": "label"},
        "fill": {"field": "s", "type": "nominal", "legend": null}
      }
    },
    {
      "data": {"name": "last"},
      "transform": [{"filter": "datum.s == '2-комн. кв.'"}],
      "mark": {"type": "text", "font": "DejaVu Sans", "fontSize": 23, "fontWeight": "bold", "align": "center", "baseline": "alphabetic", "dy": -23},
      "encoding": {
        "text": {"field": "label"},
        "fill": {"field": "s", "type": "nominal", "legend": null}
      }
    },
    {
      "data": {"name": "last"},
      "transform": [{"filter": "datum.s == '3-комн. кв.'"}],
      "mark": {"type": "text", "font": "DejaVu Sans", "fontSize": 23, "fontWeight": "bold", "align": "center", "baseline": "alphabetic", "dy": -28},
      "encoding": {
        "text": {"field": "label"},
        "fill": {"field": "s", "type": "nominal", "legend": null}
      }
    }
  ]
}
